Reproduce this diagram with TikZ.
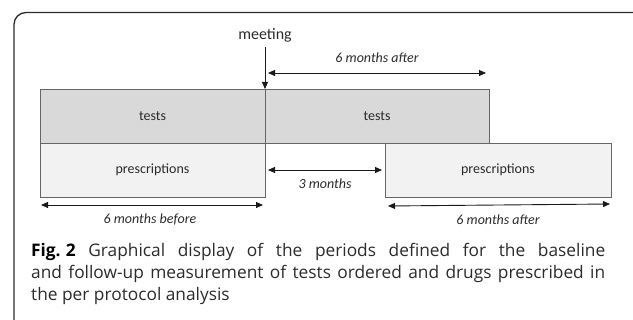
\documentclass[tikz,border=0pt]{standalone}
\usepackage{fontspec}
\setmainfont{Open Sans}
\newfontfamily\dfont{Carlito}
\usetikzlibrary{arrows.meta}
\definecolor{testfill}{HTML}{D9D9D9}
\definecolor{prescfill}{HTML}{F2F2F2}
\definecolor{boxline}{HTML}{666666}
\definecolor{arrowcol}{HTML}{1A1A1A}
\definecolor{txtcol}{HTML}{2B2B2B}
\begin{document}
\begin{tikzpicture}[x=1pt,y=-1pt,
  boxbase/.style={draw=boxline, line width=0.9pt, inner sep=0pt, outer sep=0pt,
    anchor=north west, text=txtcol, font=\dfont\fontsize{14}{16}\selectfont},
  testbox/.style={boxbase, fill=testfill},
  prescbox/.style={boxbase, fill=prescfill},
  span/.style={draw=arrowcol, line width=0.9pt, {Triangle[length=7pt,width=6pt]}-{Triangle[length=7pt,width=6pt]}},
  onearrow/.style={draw=arrowcol, line width=0.9pt, -{Triangle[length=7pt,width=6pt]}},
  lab/.style={text=txtcol, inner sep=0pt, font=\dfont\itshape\fontsize{14}{16}\selectfont},
  meet/.style={text=txtcol, inner sep=0pt, font=\dfont\fontsize{16}{18}\selectfont}]
\useasboundingbox (0,0) rectangle (633,320);
% frame
\draw[draw=txtcol, line width=1.3pt, rounded corners=12pt] (640,12.5) -- (14,12.5) -- (14,330);
% boxes
\node[testbox, minimum width=225pt, minimum height=54pt] (t1) at (40,89) {tests};
\node[testbox, minimum width=224pt, minimum height=54pt] (t2) at (265,89) {tests};
\node[prescbox, minimum width=225pt, minimum height=54pt] (p1) at (40,143) {prescriptions};
\node[prescbox, minimum width=226pt, minimum height=54pt] (p2) at (385,143) {prescriptions};
% meeting
\node[meet] (meeting) at (265,35) {meeting};
\coordinate (mtop) at (265,47);
\draw[onearrow] (mtop) -- (t2.north west);
% 6 months after (top)
\coordinate (a1) at (268,73);
\coordinate (a2) at (486,73);
\draw[span] (a1) -- (a2);
\node[lab] (l1) at (377,58) {6 months after};
% 3 months
\coordinate (b1) at (268,170);
\coordinate (b2) at (382,170);
\draw[span] (b1) -- (b2);
\node[lab] (l2) at (325,184) {3 months};
% 6 months before
\coordinate (c1) at (41,205);
\coordinate (c2) at (263,205);
\draw[span] (c1) -- (c2);
\node[lab] (l3) at (150,219) {6 months before};
% 6 months after (bottom)
\coordinate (d1) at (388,206);
\coordinate (d2) at (610,204);
\draw[span] (d1) -- (d2);
\node[lab] (l4) at (498,220) {6 months after};
% caption
\node[anchor=base west, inner sep=0pt, text=txtcol] (cap) at (31,257)
  {\parbox[t]{574pt}{\fontsize{17.3}{22}\selectfont\textbf{\color{black}Fig.\nobreak\hspace{0.3em}2} Graphical display of the periods defined for the baseline\linebreak and follow-up measurement of tests ordered and drugs prescribed in\linebreak the per protocol analysis}};
\end{tikzpicture}
\end{document}
